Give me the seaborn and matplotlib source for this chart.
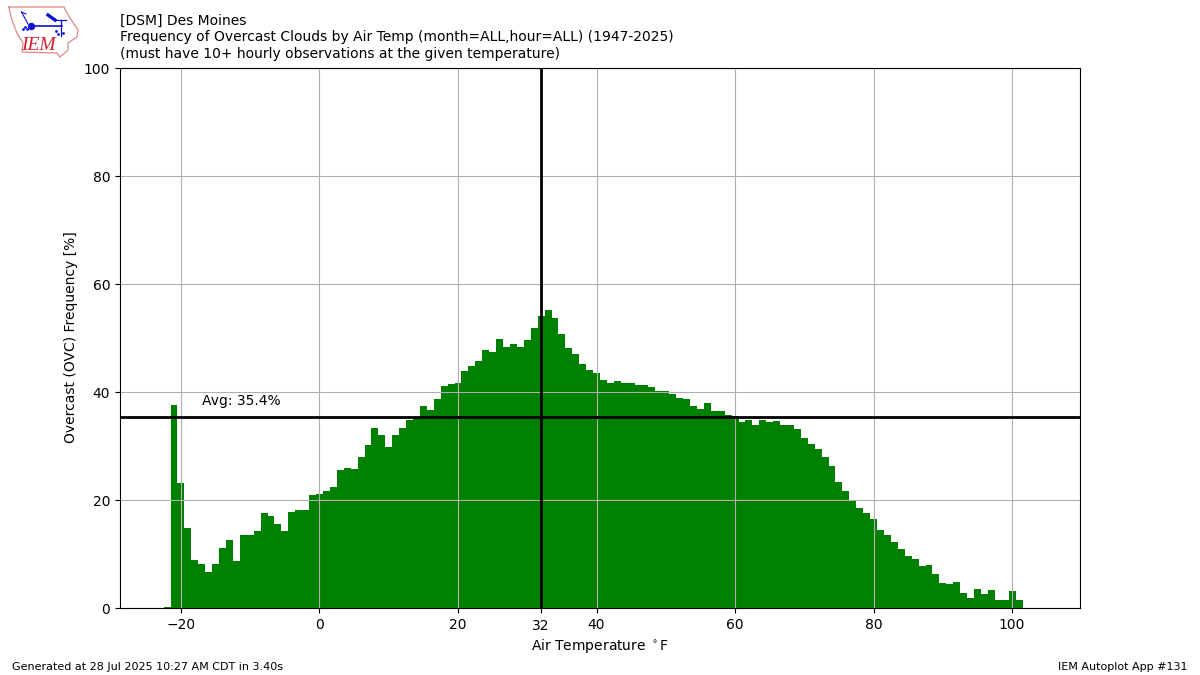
"""
Frequency of overcast clouds by air temperature, DSM (IEM Autoplot 131)
"""

import numpy as np
import seaborn as sns
from matplotlib import pyplot as plt

# DATA
TEMPS = list(range(-22, 102))
FREQ = [
    0.1, 37.6, 23.2, 14.9, 8.9, 8.1, 6.7, 8.1, 11.2, 12.6,
    8.7, 13.5, 13.5, 14.3, 17.6, 17.1, 15.6, 14.3, 17.8, 18.2,
    18.2, 21.0, 21.2, 21.7, 22.5, 25.6, 26.0, 25.8, 28.0, 30.1,
    33.4, 32.1, 29.9, 32.1, 33.4, 34.9, 35.2, 37.4, 36.6, 38.7,
    41.1, 41.5, 41.7, 43.9, 44.8, 45.8, 47.8, 47.5, 49.9, 48.4,
    48.9, 48.4, 49.7, 51.9, 54.1, 55.2, 53.7, 50.8, 48.2, 47.1,
    45.2, 44.1, 43.6, 42.3, 41.7, 42.1, 41.7, 41.7, 41.3, 41.3,
    41.0, 40.1, 40.2, 39.6, 38.9, 38.7, 37.5, 36.9, 38.0, 36.4,
    36.4, 35.7, 35.6, 34.4, 34.9, 33.8, 34.9, 34.5, 34.6, 33.9,
    33.9, 33.2, 31.4, 30.4, 29.4, 28.0, 26.3, 23.4, 21.7, 20.0,
    18.6, 17.6, 16.4, 14.5, 13.6, 12.3, 11.0, 9.7, 9.1, 7.8,
    8.0, 6.3, 4.7, 4.5, 4.9, 2.8, 1.9, 3.6, 2.6, 3.4,
    1.5, 1.5, 3.2, 1.5,
]
AVG = 35.44
FREEZING = 32
XTICKS = [-20, 0, 20, 32, 40, 60, 80, 100]
TITLE = (
    "[DSM] Des Moines\n"
    "Frequency of Overcast Clouds by Air Temp (month=ALL,hour=ALL) (1947-2025)\n"
    "(must have 10+ hourly observations at the given temperature)"
)

# LOGO OUTLINE (pixels)
IOWA_X = [9, 64, 68, 78, 77, 68, 68, 60, 57, 22, 23, 17, 13, 10, 9]
IOWA_Y = [7, 7, 15, 30, 37, 43, 50, 57, 53, 52, 43, 33, 23, 13, 7]


def draw_logo(fig):
    ax = fig.add_axes([0, 1 - 70 / 675, 0.1, 70 / 675])
    ax.set_xlim(0, 120)
    ax.set_ylim(70, 0)
    ax.axis("off")
    ax.plot(IOWA_X, IOWA_Y, color="#e08888", lw=0.9)
    ax.plot([31, 62], [26, 26], color="#1010d0", lw=1.2)
    ax.plot([61, 61], [20, 36], color="#1010d0", lw=0.9)
    ax.plot([48, 55], [15, 20], color="#1010d0", lw=2.4)
    ax.plot([55, 66], [20, 20], color="#1010d0", lw=0.9)
    ax.plot([21.5, 28], [12, 24], color="#1010d0", lw=0.8)
    ax.plot([21.5, 26], [12, 14], color="#1010d0", lw=0.8)
    ax.plot([31], [26], "o", color="#1010d0", ms=4.3)
    ax.plot([23, 25, 27, 56, 58, 63], [29, 27, 29, 31, 34, 33], ".", color="#1010d0", ms=2)
    ax.text(
        21, 46, "IEM", color="#d02030", family="Liberation Serif",
        style="italic", fontsize=14, va="center",
    )


def main():
    fig = plt.figure(figsize=(12, 6.75), dpi=100)
    ax = fig.add_axes([0.1, 1 - 608 / 675, 0.8, 0.8])

    sns.barplot(
        x=np.array(TEMPS), y=np.array(FREQ), native_scale=True, color="green",
        saturation=1, width=1, linewidth=0, errorbar=None, ax=ax,
    )
    ax.axhline(AVG, color="k", lw=2)
    ax.axvline(FREEZING, color="k", lw=2)
    ax.text(-17, AVG + 2.2, f"Avg: {AVG:.1f}%")

    ax.set_xticks(XTICKS)
    ax.set_xticklabels([str(x).replace("-", "\u2212") for x in XTICKS])
    ax.xaxis.get_major_ticks()[XTICKS.index(FREEZING)].set_pad(4.5)
    ax.set_xlim(-28.8, 109.8)
    ax.set_ylim(0, 100)
    ax.grid(True)
    ax.set_xlabel(r"Air Temperature $^\circ$F", labelpad=3)
    ax.set_ylabel("Overcast (OVC) Frequency [%]", y=0.502)

    # TITLE AND FOOTER
    fig.text(0.1, 0.979, TITLE, va="top", fontsize=10)
    fig.text(0.01, 0.0075, "Generated at 28 Jul 2025 10:27 AM CDT in 3.40s", fontsize=8)
    fig.text(0.99, 0.0075, "IEM Autoplot App #131", fontsize=8, ha="right")

    draw_logo(fig)

    plt.savefig("out.png", dpi=100)


if __name__ == "__main__":
    main()
